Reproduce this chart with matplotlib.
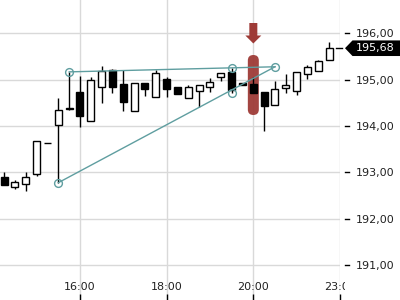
import matplotlib
matplotlib.use("Agg")
import matplotlib.pyplot as plt
import matplotlib.transforms as mtransforms
from matplotlib.patches import FancyBboxPatch, Polygon
import numpy as np

# ---- data (15-minute candles) ----
times = [14.25 + 0.25 * i for i in range(31)]
opens = [192.90, 192.69, 192.75, 192.96, 193.63, 194.02, 194.38, 194.73, 194.12, 194.84,
         195.21, 194.91, 194.33, 194.94, 194.62, 195.01, 194.84, 194.61, 194.76, 194.85,
         195.05, 195.17, 194.92, 194.91, 194.74, 194.45, 194.83, 194.76, 195.12, 195.19,
         195.42]
highs = [193.00, 192.84, 193.00, 193.68, 193.63, 194.60, 195.17, 195.08, 195.05, 195.30,
         195.23, 195.22, 194.92, 194.94, 195.21, 195.06, 194.84, 194.89, 194.89, 195.03,
         195.14, 195.25, 194.93, 195.05, 194.74, 194.97, 195.12, 195.16, 195.32, 195.42,
         195.81]
lows = [192.72, 192.64, 192.61, 192.93, 193.63, 192.78, 194.35, 193.99, 194.12, 194.49,
        194.72, 194.33, 194.33, 194.66, 194.62, 194.63, 194.70, 194.61, 194.42, 194.73,
        194.98, 194.71, 194.89, 194.71, 193.90, 194.45, 194.71, 194.68, 195.02, 195.19,
        195.42]
closes = [192.72, 192.79, 192.90, 193.68, 193.63, 194.34, 194.40, 194.22, 194.99, 195.18,
          194.85, 194.53, 194.92, 194.79, 195.14, 194.81, 194.70, 194.84, 194.89, 194.95,
          195.14, 194.78, 194.89, 194.71, 194.44, 194.81, 194.88, 195.16, 195.27, 195.40,
          195.68]
last_price = 195.68

# drawing tool (trend lines)
upper_line_t = [15.75, 20.5]
upper_line_p = [195.17, 195.28]
lower_line_t = [15.5, 20.5]
lower_line_p = [192.78, 195.28]
anchor_t = [15.5, 15.75, 19.5, 19.5, 20.5]
anchor_p = [192.78, 195.17, 195.26, 194.72, 195.28]

highlight_t = 20.0

xtick_pos = [16, 18, 20, 22]
xtick_labels = ["16:00", "18:00", "20:00", "23:00"]
ytick_vals = [191, 192, 193, 194, 195, 196]
ytick_labels = ["191,00", "192,00", "193,00", "194,00", "195,00", "196,00"]

# ---- figure ----
W, H = 400, 300
fig = plt.figure(figsize=(4, 3), dpi=100)
ax = fig.add_axes([0, 0, 340 / 400, 1])
ax.set_xlim(14.154, 22.0)
ax.set_ylim(190.25, 196.72)
for s in ax.spines.values():
    s.set_visible(False)

grid_c = "#d9d9d9"
for yv in ytick_vals:
    ax.axhline(yv, color=grid_c, lw=1, zorder=0)
for xv in xtick_pos:
    ax.axvline(xv, color=grid_c, lw=1, zorder=0)

# candles
t = np.array(times)
o = np.array(opens); c = np.array(closes)
hi = np.array(highs); lo = np.array(lows)
bw = 7 / 43.33
ax.vlines(t, lo, hi, color="black", lw=1, zorder=3)
up = c >= o
bottoms = np.minimum(o, c)
heights = np.abs(c - o)
ax.bar(t[up], heights[up], bottom=bottoms[up], width=bw, facecolor="white",
       edgecolor="black", lw=1, zorder=4)
ax.bar(t[~up], heights[~up], bottom=bottoms[~up], width=bw, facecolor="black",
       edgecolor="black", lw=1, zorder=4)

# trend lines
teal = "#5f9ea0"
ax.plot(upper_line_t, upper_line_p, color=teal, lw=1, zorder=5)
ax.plot(lower_line_t, lower_line_p, color=teal, lw=1, zorder=5)
ax.plot(anchor_t, anchor_p, ls="none", marker="o", ms=5.6, mfc="none", mec=teal,
        mew=1, zorder=6)

# x ticks
ax.set_xticks(xtick_pos)
ax.set_xticklabels([])
ax.tick_params(axis="x", direction="in", length=4, width=1, color="black")
ax.set_yticks(ytick_vals)
ax.yaxis.tick_right()
ax.set_yticklabels(ytick_labels)
ax.tick_params(axis="y", length=0, pad=11.5, labelsize=8, labelcolor="#222222")

fig.canvas.draw()
clipbox = mtransforms.Bbox.from_extents(0, 0, 345, H)
for xv, lab in zip(xtick_pos, xtick_labels):
    tx = ax.text(xv, 13 / H, lab, transform=ax.get_xaxis_transform(), ha="center",
                 va="center", fontsize=8, color="#222222", clip_on=True)
    tx.set_clip_box(clipbox)

# y tick marks (offset from plot edge)
ytr = mtransforms.blended_transform_factory(ax.transAxes, ax.transData)
for yv in ytick_vals:
    ax.plot([1 + 5 / 340, 1 + 9 / 340], [yv, yv], color="black", lw=1,
            transform=ytr, clip_on=False)

# highlight marker around candle
red = "#9e3b37"
cx, _ = ax.transData.transform((highlight_t, 195.0))
bar = FancyBboxPatch((cx - 5.5, H - 115), 11, 60,
                     boxstyle="round,pad=0,rounding_size=5.5",
                     facecolor=red, edgecolor="none", alpha=0.95,
                     transform=mtransforms.IdentityTransform(), zorder=2)
ax.add_patch(bar)
arrow = Polygon([(cx - 4, H - 23), (cx + 4, H - 23), (cx + 4, H - 35.5),
                 (cx + 8, H - 35.5), (cx, H - 43.5), (cx - 8, H - 35.5),
                 (cx - 4, H - 35.5)], closed=True, facecolor=red, edgecolor="none",
                transform=mtransforms.IdentityTransform(), zorder=2)
ax.add_patch(arrow)

# last price marker
_, ly = ax.transData.transform((20, last_price))
ax.plot([1 - 4 / 340, 1 + 2 / 340], [last_price, last_price], color="black", lw=1,
        transform=ytr, clip_on=False)
lab_poly = Polygon([(345, ly), (352.5, ly + 7.8), (400, ly + 7.8), (400, ly - 7.8),
                    (352.5, ly - 7.8)], closed=True, facecolor="black",
                   edgecolor="none", transform=mtransforms.IdentityTransform())
fig.add_artist(lab_poly)
fig.text(356 / W, ly / H, "195,68", color="white", fontsize=8, ha="left",
         va="center")

fig.savefig("out.png", dpi=100)
